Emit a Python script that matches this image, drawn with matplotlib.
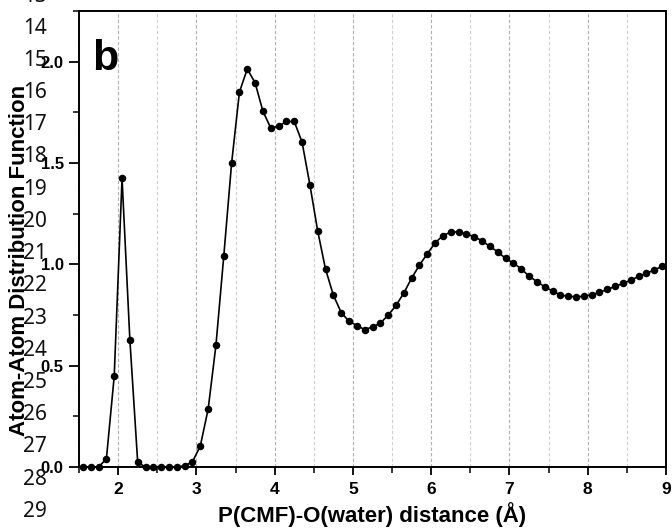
import numpy as np
import matplotlib
matplotlib.use("Agg")
import matplotlib.pyplot as plt
from matplotlib.ticker import MultipleLocator, FixedLocator

# ---- data ----
distance = [1.55, 1.65, 1.75, 1.85, 1.95, 2.05, 2.15, 2.25, 2.35, 2.45,
            2.55, 2.65, 2.75, 2.85, 2.95, 3.05, 3.15, 3.25, 3.35, 3.45,
            3.55, 3.65, 3.75, 3.85, 3.95, 4.05, 4.15, 4.25, 4.35, 4.45,
            4.55, 4.65, 4.75, 4.85, 4.95, 5.05, 5.15, 5.25, 5.35, 5.45,
            5.55, 5.65, 5.75, 5.85, 5.95, 6.05, 6.15, 6.25, 6.35, 6.45,
            6.55, 6.65, 6.75, 6.85, 6.95, 7.05, 7.15, 7.25, 7.35, 7.45,
            7.55, 7.65, 7.75, 7.85, 7.95, 8.05, 8.15, 8.25, 8.35, 8.45,
            8.55, 8.65, 8.75, 8.85, 8.95]
rdf = [0.0, 0.0, 0.0, 0.04, 0.448, 1.424, 0.627, 0.023, 0.0, 0.0,
       0.0, 0.0, 0.0, 0.006, 0.026, 0.104, 0.285, 0.602, 1.042, 1.50,
       1.850, 1.964, 1.896, 1.755, 1.673, 1.681, 1.705, 1.705, 1.603, 1.393,
       1.164, 0.976, 0.848, 0.762, 0.719, 0.698, 0.678, 0.691, 0.710, 0.749,
       0.797, 0.858, 0.932, 0.996, 1.052, 1.106, 1.142, 1.159, 1.160, 1.151,
       1.136, 1.116, 1.088, 1.062, 1.029, 1.006, 0.978, 0.942, 0.915, 0.889,
       0.868, 0.849, 0.842, 0.840, 0.842, 0.850, 0.862, 0.876, 0.891, 0.906,
       0.922, 0.940, 0.956, 0.972, 0.990]
x_ticks = [2, 3, 4, 5, 6, 7, 8, 9]
y_ticks = [0.0, 0.5, 1.0, 1.5, 2.0]
y_ticklabels = ["0.0", "0.5", "1.0", "1.5", "2.0"]
line_numbers = list(range(13, 30))
panel_label = "b"
xlabel = "P(CMF)-O(water) distance (Å)"
ylabel = "Atom-Atom Distribution Function"

W, H = 672, 529
fig = plt.figure(figsize=(W / 100, H / 100), dpi=100)
L, R, T, B = 79, 666, 11, 467
ax = fig.add_axes([L / W, 1 - B / H, (R - L) / W, (B - T) / H])

font = "Liberation Sans"

ax.plot(distance, rdf, color="black", lw=1.2, marker="o", ms=4.4,
        mfc="black", mec="black", zorder=3, clip_on=False)

ax.set_xlim(1.5, 9.0)
ax.set_ylim(0.0, 2.25)

ax.xaxis.set_major_locator(FixedLocator(x_ticks))
ax.xaxis.set_minor_locator(MultipleLocator(0.5))
ax.yaxis.set_major_locator(FixedLocator(y_ticks))
ax.yaxis.set_minor_locator(MultipleLocator(0.25))

ax.set_xticklabels([str(v) for v in x_ticks], fontfamily=font,
                   fontweight="bold", fontsize=12.5)
ax.set_yticklabels(y_ticklabels, fontfamily=font, fontweight="bold",
                   fontsize=12)

ax.tick_params(axis="x", which="major", direction="out", length=6,
               width=1.3, pad=5)
ax.tick_params(axis="x", which="minor", direction="out", length=4, width=1.1)
ax.tick_params(axis="y", which="major", direction="out", length=7,
               width=1.3, pad=4)
ax.tick_params(axis="y", which="minor", direction="out", length=4, width=1.1)
ax.tick_params(top=False, right=False, which="both")

for s in ax.spines.values():
    s.set_linewidth(1.4)
    s.set_color("black")

ax.grid(axis="x", which="major", color="#b0b0b0", linestyle=(0, (3, 2)),
        linewidth=0.8)
ax.grid(axis="x", which="minor", color="#d0d0d0", linestyle=(0, (3, 2)),
        linewidth=0.8)
ax.grid(axis="y", visible=False, which="both")
ax.set_axisbelow(True)

ax.set_xlabel(xlabel, fontfamily=font, fontweight="bold", fontsize=16)
ax.xaxis.label.set_va("center")
ax.xaxis.set_label_coords(0.5, (B - 515) / (B - T))

ax.set_ylabel(ylabel, fontfamily=font, fontweight="bold", fontsize=16)
ax.yaxis.label.set_va("center")
ax.yaxis.label.set_ha("center")
ax.yaxis.set_label_coords((20 - L) / (R - L), (B - 260) / (B - T))

fig.text(92 / W, 1 - 70 / H, panel_label, fontfamily=font,
         fontweight="bold", fontsize=31, ha="left", va="baseline")

for i, n in enumerate(line_numbers):
    yc = -4 + 32.2 * i
    fig.text(35 / W, 1 - yc / H, str(n), fontfamily="Noto Sans",
             fontsize=15, ha="center", va="center", color="#111111")

fig.savefig("out.png", dpi=100)
